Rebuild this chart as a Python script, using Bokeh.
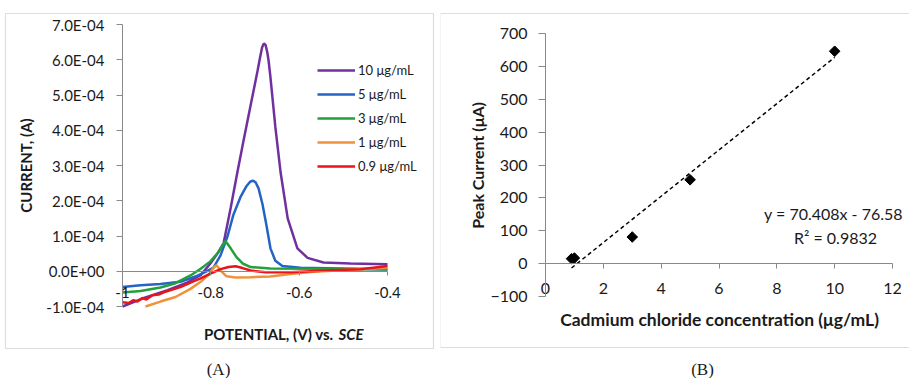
import numpy as np
from bokeh.plotting import figure
from bokeh.layouts import row
from bokeh.models import (FixedTicker, CustomJSTickFormatter, LinearAxis, Label,
                          BoxAnnotation, Legend, LegendItem, Range1d)
from bokeh.embed import file_html
from bokeh.resources import INLINE

# ---------------- data: panel (A) ----------------
series_labels = ["10 μg/mL", "5 μg/mL", "3 μg/mL", "1 μg/mL", "0.9 μg/mL"]
series_colors = ["#7030A0", "#2563C5", "#22A03C", "#F0913C", "#E8141B"]
CUR_UNIT = 1e-4  # currents below are written in units of 1e-4 A

pot_10 = [-1.000, -0.948, -0.898, -0.857, -0.823, -0.801, -0.785, -0.771, -0.755, -0.740,
          -0.726, -0.710, -0.694, -0.688, -0.684, -0.680, -0.676, -0.672, -0.669, -0.665,
          -0.654, -0.642, -0.626, -0.604, -0.581, -0.545, -0.484, -0.400]
cur_10 = [-1.00, -0.74, -0.54, -0.34, -0.11, 0.22, 0.50, 0.80, 1.80, 2.80,
          3.70, 4.70, 5.70, 6.10, 6.35, 6.46, 6.42, 6.20, 5.95, 5.50,
          4.10, 2.80, 1.50, 0.65, 0.38, 0.25, 0.22, 0.20]

pot_5 = [-1.000, -0.959, -0.914, -0.869, -0.835, -0.812, -0.794, -0.778, -0.762, -0.749,
         -0.733, -0.719, -0.711, -0.705, -0.699, -0.692, -0.683, -0.674, -0.665, -0.654,
         -0.638, -0.597, -0.506, -0.400]
cur_5 = [-0.45, -0.40, -0.36, -0.30, -0.15, -0.02, 0.10, 0.45, 1.00, 1.60,
         2.10, 2.42, 2.54, 2.57, 2.53, 2.35, 1.90, 1.30, 0.65, 0.30,
         0.15, 0.10, 0.08, 0.05]

pot_3 = [-1.000, -0.959, -0.914, -0.880, -0.846, -0.823, -0.801, -0.783, -0.767, -0.755,
         -0.742, -0.728, -0.710, -0.665, -0.552, -0.400]
cur_3 = [-0.60, -0.56, -0.46, -0.34, -0.12, 0.07, 0.28, 0.54, 0.86, 0.65,
         0.40, 0.22, 0.12, 0.08, 0.07, 0.06]

pot_1 = [-0.948, -0.914, -0.880, -0.846, -0.823, -0.805, -0.794, -0.787, -0.778, -0.765,
         -0.744, -0.710, -0.665, -0.620, -0.574, -0.506, -0.400]
cur_1 = [-1.00, -0.86, -0.73, -0.50, -0.30, -0.10, 0.10, 0.17, 0.02, -0.14,
         -0.18, -0.17, -0.15, -0.08, -0.02, 0.03, 0.10]

pot_09 = [-1.000, -0.986, -0.975, -0.966, -0.955, -0.946, -0.932, -0.918, -0.903, -0.887,
          -0.869, -0.846, -0.823, -0.801, -0.778, -0.760, -0.744, -0.728, -0.710, -0.676,
          -0.620, -0.574, -0.529, -0.461, -0.400]
cur_09 = [-0.88, -0.90, -0.82, -0.86, -0.76, -0.80, -0.68, -0.66, -0.58, -0.52,
          -0.45, -0.32, -0.20, -0.07, 0.06, 0.12, 0.14, 0.09, 0.02, -0.03,
          -0.03, 0.00, 0.03, 0.06, 0.15]

pots = [pot_10, pot_5, pot_3, pot_1, pot_09]
curs = [cur_10, cur_5, cur_3, cur_1, cur_09]

a_x_min, a_x_max = -1.0, -0.4
a_y_min, a_y_max = -1e-4, 7e-4
a_x_ticks = [-1.0, -0.8, -0.6, -0.4]
a_x_tick_labels = ["-1", "-0.8", "-0.6", "-0.4"]
a_y_ticks = [-1e-4, 0.0, 1e-4, 2e-4, 3e-4, 4e-4, 5e-4, 6e-4, 7e-4]
a_y_tick_labels = ["-1.0E-04", "0.0E+00", "1.0E-04", "2.0E-04", "3.0E-04",
                   "4.0E-04", "5.0E-04", "6.0E-04", "7.0E-04"]

# ---------------- data: panel (B) ----------------
conc = [0.9, 1.0, 3.0, 5.0, 10.0]
peak_current = [15, 17, 81, 255, 646]
fit_slope = 70.408
fit_intercept = -76.58
fit_r2 = 0.9832
b_x_min, b_x_max = 0, 12
b_y_min, b_y_max = -100, 700
b_x_ticks = [0, 2, 4, 6, 8, 10, 12]
b_y_ticks = [-100, 0, 100, 200, 300, 400, 500, 600, 700]

AXIS_GRAY = "#898989"
BORDER_GRAY = "#8f8f8f"
TXT = "#1a1a1a"
FONT = "Lato"
H = 378
PAGE_TOP = 0

label_fmt = """
var best = 0; var d = 1e99;
for (var i = 0; i < tvals.length; i++) { var e = Math.abs(tvals[i] - tick); if (e < d) { d = e; best = i; } }
return tlabels[best];
"""


def make_panel(W, page_left, plot_l, plot_r, plot_t, plot_b, xmin, xmax, ymin, ymax):
    """Figure whose frame is the whole canvas; the plotting area sits at the
    given page-pixel box, axes are fixed at their crossing values."""
    kx = (plot_r - plot_l) / (xmax - xmin)
    ky = (plot_b - plot_t) / (ymax - ymin)
    cl = plot_l - page_left
    ct = plot_t - PAGE_TOP
    xr = Range1d(xmin - cl / kx, xmax + (W - (plot_r - page_left)) / kx)
    yr = Range1d(ymin - (H - (plot_b - PAGE_TOP)) / ky, ymax + ct / ky)
    p = figure(frame_width=W, frame_height=H, x_range=xr, y_range=yr,
               min_border_left=0, min_border_right=0, min_border_top=0, min_border_bottom=0,
               x_axis_type=None, y_axis_type=None,
               output_backend="svg", toolbar_location=None)
    p.outline_line_color = None
    fx = lambda px: xmin + (px - plot_l) / kx
    fy = lambda py: ymin + (plot_b - py) / ky
    return p, fx, fy


def style_axis(ax, out, stand, size):
    ax.axis_line_color = AXIS_GRAY
    ax.major_tick_line_color = AXIS_GRAY
    ax.minor_tick_line_color = None
    ax.major_tick_in = 0
    ax.major_tick_out = out
    ax.major_label_standoff = stand
    ax.major_label_text_font = FONT
    ax.major_label_text_font_size = size
    ax.major_label_text_color = TXT


def text(p, x, y, s, size, style="normal", align="center", angle=0, font=FONT):
    p.add_layout(Label(x=x, y=y, text=s, angle=angle, text_align=align,
                       text_baseline="middle", text_font=font, text_font_style=style,
                       text_font_size=size, text_color=TXT))


# ================= panel A =================
p1, ax_, ay_ = make_panel(440, 0, 122, 387, 24, 306, a_x_min, a_x_max, a_y_min, a_y_max)

yax = LinearAxis(fixed_location=a_x_min, bounds=(a_y_min, a_y_max),
                 ticker=FixedTicker(ticks=a_y_ticks, minor_ticks=[]),
                 formatter=CustomJSTickFormatter(args=dict(tvals=a_y_ticks, tlabels=a_y_tick_labels), code=label_fmt))
xax = LinearAxis(fixed_location=0, bounds=(a_x_min, a_x_max),
                 ticker=FixedTicker(ticks=a_x_ticks, minor_ticks=[]),
                 formatter=CustomJSTickFormatter(args=dict(tvals=a_x_ticks, tlabels=a_x_tick_labels), code=label_fmt))
style_axis(yax, 6, 12, "15px")
style_axis(xax, 4, 12, "15px")
p1.add_layout(yax, "left")
p1.add_layout(xax, "below")

items = []
for lab, col, xs, ys in zip(series_labels, series_colors, pots, curs):
    r = p1.line(xs, [v * CUR_UNIT for v in ys], line_color=col, line_width=2.5)
    items.append(LegendItem(label=lab, renderers=[r]))

leg = Legend(items=items, location=(317, 202), orientation="vertical",
             glyph_width=38, glyph_height=20, label_height=20, label_standoff=3,
             spacing=4, padding=0, margin=0, border_line_color=None,
             background_fill_alpha=0, label_text_font=FONT, label_text_font_size="13px",
             label_text_color=TXT)
p1.add_layout(leg)

text(p1, ax_(25), ay_(165), "CURRENT, (A)", "15px", "bold", angle=np.pi / 2)
text(p1, ax_(333), ay_(333), "POTENTIAL, (V) vs.", "15px", "bold", align="right")
text(p1, ax_(338), ay_(333), "SCE", "15px", "bold italic", align="left")
text(p1, ax_(218), ay_(369), "(A)", "17px", font="Liberation Serif")
p1.add_layout(BoxAnnotation(left=ax_(5), right=ax_(433), top=ay_(13), bottom=ay_(348),
                            fill_color=None, line_color=BORDER_GRAY, line_width=1.2))

# ================= panel B =================
p2, bx_, by_ = make_panel(469, 440, 545, 892, 33, 296, b_x_min, b_x_max, b_y_min, b_y_max)

yax2 = LinearAxis(fixed_location=b_x_min, bounds=(b_y_min, b_y_max),
                  ticker=FixedTicker(ticks=b_y_ticks, minor_ticks=[]))
xax2 = LinearAxis(fixed_location=0, bounds=(b_x_min, b_x_max),
                  ticker=FixedTicker(ticks=b_x_ticks, minor_ticks=[]))
style_axis(yax2, 7, 11, "16px")
style_axis(xax2, 5, 14, "16px")
p2.add_layout(yax2, "left")
p2.add_layout(xax2, "below")

fit_x = [min(conc), max(conc)]
fit_y = [fit_slope * c + fit_intercept for c in fit_x]
p2.line(fit_x, fit_y, line_color="black", line_width=1.5, line_dash="4 3")
p2.scatter(conc, peak_current, marker="square", angle=np.pi / 4, size=7.5,
           fill_color="black", line_color="black")

text(p2, bx_(477), by_(165), "Peak Current (μA)", "16px", "bold", angle=np.pi / 2)
text(p2, bx_(719), by_(319), "Cadmium chloride concentration (μg/mL)", "17.5px", "bold")
text(p2, bx_(833), by_(213), f"y = {fit_slope}x - {abs(fit_intercept)}", "16px")
text(p2, bx_(835), by_(237), f"R² = {fit_r2}", "16px")
text(p2, bx_(702), by_(369), "(B)", "17px", font="Liberation Serif")
p2.add_layout(BoxAnnotation(left=bx_(439.5), right=bx_(915), top=by_(13), bottom=by_(347),
                            fill_color=None, line_color=BORDER_GRAY, line_width=1.2))

layout = row(p1, p2)
open("out.html", "w").write(file_html(layout, INLINE))
